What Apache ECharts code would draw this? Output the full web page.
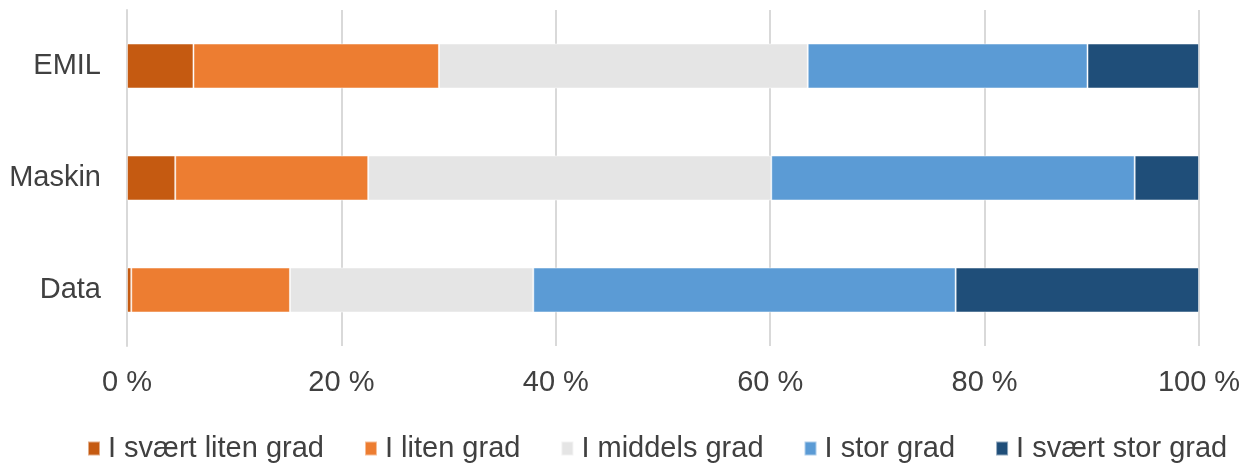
<!DOCTYPE html>
<html>
<head>
<meta charset="utf-8">
<script src="https://cdn.jsdelivr.net/npm/echarts@6/dist/echarts.min.js"></script>
<style>
  html, body { margin: 0; padding: 0; background: #fff; }
  #chart { width: 1256px; height: 465px; }
</style>
</head>
<body>
<div id="chart"></div>
<script>
// kategorier (nederst -> øverst)
const categories = ['Data', 'Maskin', 'EMIL']
const seriesNames = ['I svært liten grad', 'I liten grad', 'I middels grad', 'I stor grad', 'I svært stor grad']
const colors = ['#c55a11', '#ed7d31', '#e5e5e5', '#5b9bd5', '#1f4e79']

// prosentverdier lest fra figuren
const veryLow = [0.4, 4.5, 6.2]
const low = [14.8, 18.0, 22.9]
const middle = [22.7, 37.6, 34.4]
const high = [39.4, 33.9, 26.1]
const veryHigh = [22.7, 6.0, 10.4]

const xTicks = [0, 20, 40, 60, 80, 100]

const values = [veryLow, low, middle, high, veryHigh]

let chart = echarts.init(document.getElementById('chart'))

const font = 'Liberation Sans, Arial, sans-serif'

let options = {
    animation: false,
    textStyle: { fontFamily: font },
    grid: { left: 127, right: 57, top: 10, bottom: 119, containLabel: false },
    legend: {
        top: 429,
        left: 82,
        itemWidth: 12,
        itemHeight: 14,
        itemGap: 40,
        icon: 'rect',
        textStyle: { fontSize: 29, color: '#404040', fontFamily: font, padding: [0, 0, 0, 3] },
        data: seriesNames
    },
    xAxis: {
        type: 'value',
        min: xTicks[0],
        max: xTicks[xTicks.length - 1],
        interval: 20,
        axisLine: { show: false },
        axisTick: { show: false },
        splitLine: { lineStyle: { color: '#d9d9d9', width: 2 } },
        axisLabel: {
            fontSize: 29,
            color: '#404040',
            margin: 22,
            formatter: v => v + ' %'
        }
    },
    yAxis: {
        type: 'category',
        data: categories,
        axisLine: { show: true, lineStyle: { color: '#d9d9d9', width: 2 } },
        axisTick: { show: false },
        axisLabel: { fontSize: 29, color: '#404040', margin: 26 }
    },
    series: seriesNames.map((name, i) => ({
        name: name,
        type: 'bar',
        stack: 'total',
        barWidth: 45,
        itemStyle: { color: colors[i], borderColor: 'rgba(255,255,255,0.5)', borderWidth: 1 },
        data: values[i]
    }))
}

chart.setOption(options)
</script>
</body>
</html>
